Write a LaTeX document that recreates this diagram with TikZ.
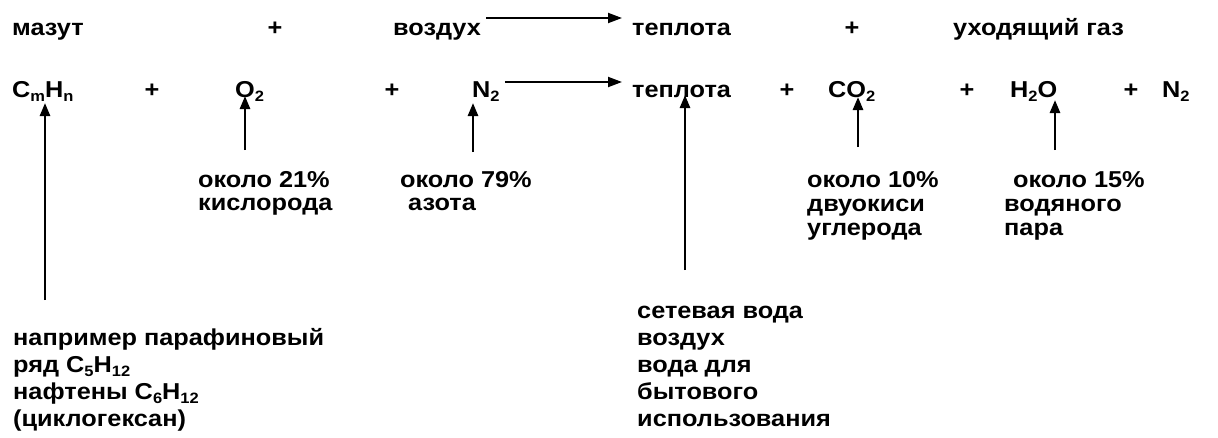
\documentclass[tikz,border=0pt]{standalone}
\usepackage{fontspec}
\setmainfont{Liberation Sans}[FakeStretch=1.1]
\usetikzlibrary{arrows.meta,calc}
\newcommand\chsub[1]{\raisebox{-4pt}{\fontsize{15}{15}\selectfont #1}}
\newcommand\lstack[2]{\vtop{\baselineskip=#1\relax\lineskiplimit=-20pt #2}}
\tikzset{
  txt/.style={inner sep=0pt, anchor=base west, font=\fontsize{23}{23}\selectfont\bfseries},
  pl/.style={inner sep=0pt, anchor=base, font=\fontsize{23}{23}\selectfont\bfseries},
  varr/.style={line width=2.6pt, -{Triangle[length=13pt,width=10pt]}},
  harr/.style={line width=2pt, -{Triangle[length=14pt,width=10pt]}}
}
\begin{document}
\begin{tikzpicture}[x=1pt,y=-1pt]
\path[use as bounding box, fill=white] (0,0) rectangle (1218,437);
% row 1
\node[txt] (mazut) at (12,35) {мазут};
\node[pl]  (p11)   at (275,35) {+};
\node[txt] (vozd)  at (393,35) {воздух};
\node[txt] (tep1)  at (632,35) {теплота};
\node[pl]  (p12)   at (852,35) {+};
\node[txt] (gas)   at (953,35) {уходящий газ};
\draw[harr] ($(vozd.base east)+(5,-17)$) -- ($(tep1.base west)+(-10,-17)$);
% row 2
\node[txt] (cmhn) at (12,97) {C\chsub{m}H\chsub{n}};
\node[pl]  (p21)  at (152,97) {+};
\node[txt] (o2)   at (235,97) {O\chsub{2}};
\node[pl]  (p22)  at (392,97) {+};
\node[txt] (n2a)  at (472,97) {N\chsub{2}};
\node[txt] (tep2) at (632,97) {теплота};
\node[pl]  (p23)  at (787,97) {+};
\node[txt] (co2)  at (828,97) {CO\chsub{2}};
\node[pl]  (p24)  at (967,97) {+};
\node[txt] (h2o)  at (1010,97) {H\chsub{2}O};
\node[pl]  (p25)  at (1131,97) {+};
\node[txt] (n2b)  at (1162,97) {N\chsub{2}};
\draw[harr] ($(n2a.base east)+(5,-15)$) -- ($(tep2.base west)+(-10,-15)$);
% labels
\node[txt] (l21) at (198,187) {\lstack{23pt}{\hbox{около 21\%}\hbox{кислорода}}};
\node[txt] (l79) at (400,187) {\lstack{23pt}{\hbox{около 79\%}\hbox{\hspace*{8pt}азота}}};
\node[txt] (l10) at (807,187) {\lstack{24pt}{\hbox{около 10\%}\hbox{двуокиси}\hbox{углерода}}};
\node[txt] (l15) at (1004,187) {\lstack{24pt}{\hbox{\hspace*{9pt}около 15\%}\hbox{водяного}\hbox{пара}}};
\node[txt] (lfuel) at (13,345) {\lstack{27pt}{\hbox{например парафиновый}\hbox{ряд C\chsub{5}H\chsub{12}}\hbox{нафтены C\chsub{6}H\chsub{12}}\hbox{(циклогексан)}}};
\node[txt] (lheat) at (637,318) {\lstack{27pt}{\hbox{сетевая вода}\hbox{воздух}\hbox{вода для}\hbox{бытового}\hbox{использования}}};
% vertical arrows
\coordinate (b1) at (45,300);
\coordinate (b2) at (245,150);
\coordinate (b3) at (473,152);
\coordinate (b4) at (685,270);
\coordinate (b5) at (858,147);
\coordinate (b6) at (1055,150);
\draw[varr] (b1) -- ($(cmhn.base -| b1)+(0,6)$);
\draw[varr] (b2) -- ($(o2.base -| b2)+(0,-1)$);
\draw[varr] (b3) -- ($(n2a.base -| b3)+(0,6)$);
\draw[varr] (b4) -- ($(tep2.base -| b4)+(0,-2)$);
\draw[varr] (b5) -- ($(co2.base -| b5)+(0,0)$);
\draw[varr] (b6) -- ($(h2o.base -| b6)+(0,3)$);
\end{tikzpicture}
\end{document}
